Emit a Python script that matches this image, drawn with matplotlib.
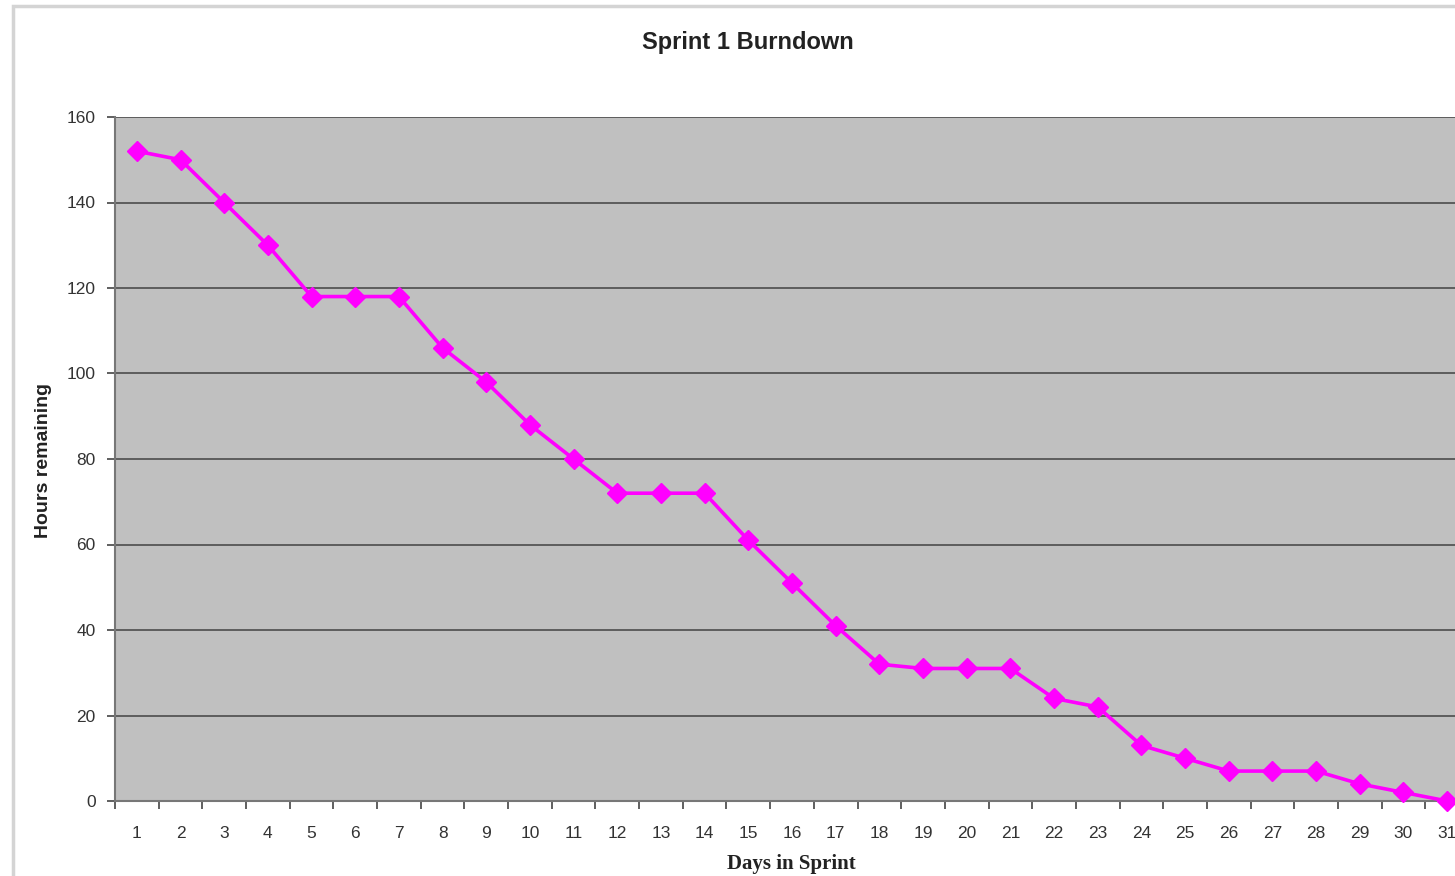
import numpy as np
import matplotlib
matplotlib.use('Agg')
import matplotlib.pyplot as plt
from matplotlib.patches import Rectangle

plt.rcParams['font.family'] = ['Liberation Sans', 'DejaVu Sans']

days = list(range(1, 32))
hours = [152, 150, 140, 130, 118, 118, 118, 106, 98, 88, 80, 72, 72, 72, 61, 51,
         41, 32, 31, 31, 31, 24, 22, 13, 10, 7, 7, 7, 4, 2, 0]
y_ticks = [0, 20, 40, 60, 80, 100, 120, 140, 160]

fig = plt.figure(figsize=(14.55, 8.76), dpi=100)
# outer chart frame
fig.patches.append(Rectangle((13 / 1455, -0.1), 1.2, 0.1 + (876 - 6) / 876,
                             transform=fig.transFigure, fill=False,
                             edgecolor='#d4d4d4', lw=2.5))

ax = fig.add_axes([115 / 1455, 75 / 876, (1469 - 115) / 1455, (801 - 117) / 876])
ax.set_facecolor('#c0c0c0')

ax.plot(days, hours, color='#ff00ff', lw=2.6, marker='D', markersize=10.5,
        zorder=5, clip_on=False)

ax.set_xlim(0.5, 31.5)
ax.set_ylim(0, 160)
ax.set_yticks(y_ticks)
ax.yaxis.grid(True, color='#555555', lw=1.3)
ax.set_axisbelow(True)

ax.set_xticks(np.arange(0.5, 32, 1))
ax.set_xticklabels([])
ax.set_xticks(days, minor=True)
ax.set_xticklabels([str(d) for d in days], minor=True)
ax.tick_params(axis='x', which='major', length=6, width=1.2, color='#444444', direction='out')
ax.tick_params(axis='x', which='minor', length=0, pad=18, labelsize=12.5, labelcolor='#333333')
ax.tick_params(axis='y', length=6, width=1.2, color='#444444', labelsize=12.5,
               labelcolor='#333333', pad=8)

for side in ['top', 'right']:
    ax.spines[side].set_visible(False)
ax.spines['left'].set_color('#777777')
ax.spines['bottom'].set_color('#777777')
ax.spines['left'].set_linewidth(1.5)
ax.spines['bottom'].set_linewidth(1.5)

fig.text(748 / 1455, 1 - 42 / 876, 'Sprint 1 Burndown', ha='center', va='center',
         fontsize=17, fontweight='bold', color='#222222')
fig.text(791 / 1455, 1 - 864 / 876, 'Days in Sprint', ha='center', va='center',
         fontsize=15, fontweight='bold', color='#222222',
         family=['Liberation Serif', 'DejaVu Serif'])
fig.text(44 / 1455, 1 - 460 / 876, 'Hours remaining', ha='center', va='center',
         rotation=90, fontsize=14, fontweight='bold', color='#222222')

fig.savefig('out.png', dpi=100)
